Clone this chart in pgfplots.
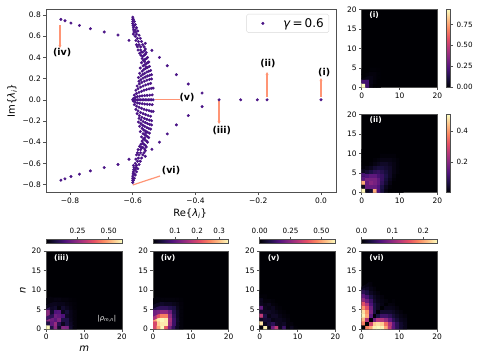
\documentclass[border=0pt]{standalone}
\usepackage{fontspec}
\setmainfont{DejaVu Sans}
\usepackage{pgfplots}
\pgfplotsset{compat=1.18}
\usetikzlibrary{arrows.meta}
\definecolor{pts}{HTML}{4A1486}
\definecolor{arrowc}{HTML}{FF9575}
\definecolor{spine}{HTML}{505050}
\definecolor{magmalow}{RGB}{0,0,4}
\newcommand{\fs}[1]{\fontsize{#1}{#1}\selectfont}
\pgfplotsset{
  colormap={magma}{rgb255=(0,0,4) rgb255=(28,16,68) rgb255=(79,18,123) rgb255=(129,37,129) rgb255=(181,54,122) rgb255=(229,80,100) rgb255=(251,135,97) rgb255=(254,194,135) rgb255=(252,253,191)},
  base/.style={
    scale only axis,
    axis line style={draw=spine,line width=0.8pt},
    tick style={draw=spine,line width=0.6pt},
    tick align=outside,
    major tick length=2.6pt,
    xtick pos=bottom, ytick pos=left,
    tick label style={font=\fs{7.5}},
    /pgf/number format/assume math mode=true,
    xticklabel style={yshift=1pt},
    yticklabel style={xshift=1pt},
  },
  panel/.style={
    base,
    width=75.7pt, height=78pt,
    xmin=0, xmax=20, ymin=0, ymax=20,
    xtick={0,10,20}, ytick={0,5,10,15,20},
    colormap name=magma,
    axis background/.style={fill=magmalow},
    point meta=explicit,
  },
  cbright/.style 2 args={
    colorbar,
    colorbar style={
      at={(parent axis.north east)}, anchor=north west, xshift=0.5pt,
      width=4pt, ytick={#1}, yticklabels={#2}, ytick pos=right, yticklabel pos=right,
      xtick=\empty,
      axis line style={draw=spine,line width=0.7pt},
      tick style={draw=spine,line width=0.6pt},
      major tick length=2.6pt, tick align=outside,
      tick label style={font=\fs{7.2}},
    },
  },
  cbtop/.style 2 args={
    colorbar horizontal,
    colorbar style={
      at={(parent axis.north west)}, anchor=south west, yshift=15.9pt,
      height=4pt, xtick={#1}, xticklabels={#2}, xtick pos=upper, xticklabel pos=upper,
      ytick=\empty,
      axis line style={draw=spine,line width=0.7pt},
      tick style={draw=spine,line width=0.6pt},
      major tick length=2.6pt, tick align=outside,
      tick label style={font=\fs{7.2}},
    },
  },
}
\tikzset{
  plabel/.style={font=\fs{7.6}\bfseries, text=white, inner sep=0pt},
  mlabel/.style={font=\fs{9.5}\bfseries, text=black, inner sep=0pt},
  arr/.style={draw=arrowc, line width=1.2pt, -{Stealth[length=3pt,width=3pt]}},
  arrn/.style={draw=arrowc, line width=1.2pt},
}
\begin{document}
\begin{tikzpicture}
\useasboundingbox (0pt,0pt) rectangle (480pt,360pt);

% spectrum
\begin{axis}[
  base,
  at={(46pt,167.5pt)}, anchor=south west,
  width=290pt, height=183.5pt,
  xmin=-0.8765, xmax=0.0478,
  ymin=-0.875, ymax=0.857,
  xtick={-0.8,-0.6,-0.4,-0.2,0}, xticklabels={−0.8,−0.6,−0.4,−0.2,0.0},
  ytick={-0.8,-0.6,-0.4,-0.2,0,0.2,0.4,0.6,0.8},
  yticklabels={−0.8,−0.6,−0.4,−0.2,0.0,0.2,0.4,0.6,0.8},
  xlabel={Re\{\textit{λ}\textsubscript{\textit{i}}\}},
  ylabel={Im\{\textit{λ}\textsubscript{\textit{i}}\}},
  label style={font=\fs{10}},
  every axis x label/.style={at={(axis description cs:0.497,-0.117)},anchor=center},
  every axis y label/.style={at={(axis description cs:-0.117,0.5)},anchor=center,rotate=90},
  legend style={at={(axis description cs:0.976,0.973)},anchor=north east,
    draw=black!15, rounded corners=1.5pt, font=\fs{12}, inner xsep=3pt, inner ysep=2pt},
  legend image code/.code={\draw[mark repeat=1,#1] plot coordinates {(13pt,0pt)}; \path (0pt,0pt) (31pt,0pt);},
]
\addplot[only marks, mark=*, mark size=1.3pt, color=pts] coordinates {
 (0,0) (-0.172,0) (-0.203,0) (-0.256,0) (-0.325,0)
 (-0.600,0) (-0.595,0) (-0.590,0) (-0.585,0) (-0.580,0) (-0.575,0) (-0.570,0) (-0.565,0) (-0.560,0) (-0.555,0) (-0.550,0) (-0.545,0) (-0.540,0) (-0.535,0)
 (-0.829,0.759) (-0.816,0.746) (-0.797,0.724) (-0.770,0.702) (-0.735,0.671) (-0.691,0.640) (-0.647,0.611) (-0.612,0.561)
 (-0.560,0.533) (-0.539,0.467) (-0.515,0.400) (-0.490,0.322) (-0.461,0.237) (-0.423,0.149) (-0.379,0.064)
 (-0.598,0.012) (-0.592,0.022) (-0.585,0.030) (-0.578,0.034) (-0.570,0.037) (-0.562,0.040) (-0.554,0.042) (-0.546,0.044) (-0.538,0.046)
 (-0.595,0.045) (-0.588,0.060) (-0.580,0.070) (-0.572,0.080) (-0.564,0.090) (-0.556,0.097) (-0.548,0.103) (-0.541,0.108) (-0.535,0.110)
 (-0.590,0.090) (-0.583,0.105) (-0.575,0.120) (-0.567,0.130) (-0.559,0.140) (-0.551,0.148) (-0.543,0.155)
 (-0.586,0.130) (-0.579,0.150) (-0.571,0.165) (-0.563,0.175) (-0.555,0.185) (-0.547,0.192) (-0.540,0.197)
 (-0.580,0.175) (-0.574,0.190) (-0.567,0.205) (-0.560,0.215) (-0.553,0.225) (-0.546,0.232) (-0.540,0.237)
 (-0.574,0.225) (-0.568,0.240) (-0.562,0.250) (-0.555,0.262) (-0.549,0.270) (-0.543,0.277)
 (-0.570,0.270) (-0.565,0.285) (-0.559,0.295) (-0.553,0.305) (-0.547,0.315)
 (-0.567,0.320) (-0.562,0.330) (-0.557,0.340) (-0.552,0.350) (-0.549,0.357)
 (-0.566,0.370) (-0.561,0.380) (-0.556,0.390) (-0.553,0.400)
 (-0.568,0.410) (-0.564,0.420) (-0.560,0.430) (-0.557,0.445)
 (-0.560,0.480) (-0.564,0.500) (-0.568,0.520) (-0.572,0.550) (-0.576,0.580) (-0.580,0.610) (-0.584,0.650) (-0.588,0.680) (-0.592,0.710) (-0.595,0.740) (-0.598,0.760) (-0.600,0.780)
 (-0.600,0.760) (-0.600,0.740) (-0.600,0.720) (-0.599,0.700) (-0.598,0.680) (-0.597,0.660) (-0.596,0.640) (-0.598,0.620)
 (-0.595,0.700) (-0.592,0.660) (-0.590,0.640) (-0.588,0.620) (-0.592,0.600) (-0.585,0.580) (-0.590,0.560) (-0.582,0.550) (-0.588,0.520) (-0.580,0.520) (-0.585,0.500) (-0.575,0.500) (-0.583,0.470) (-0.575,0.470) (-0.578,0.440) (-0.572,0.450)
 (-0.576,0.300) (-0.572,0.350) (-0.570,0.390) (-0.578,0.250) (-0.582,0.210) (-0.562,0.360) (-0.558,0.310) (-0.574,0.420) (-0.568,0.450) (-0.562,0.465)
 (-0.829,-0.759) (-0.816,-0.746) (-0.797,-0.724) (-0.770,-0.702) (-0.735,-0.671) (-0.691,-0.640) (-0.647,-0.611) (-0.612,-0.561)
 (-0.560,-0.533) (-0.539,-0.467) (-0.515,-0.400) (-0.490,-0.322) (-0.461,-0.237) (-0.423,-0.149) (-0.379,-0.064)
 (-0.598,-0.012) (-0.592,-0.022) (-0.585,-0.030) (-0.578,-0.034) (-0.570,-0.037) (-0.562,-0.040) (-0.554,-0.042) (-0.546,-0.044) (-0.538,-0.046)
 (-0.595,-0.045) (-0.588,-0.060) (-0.580,-0.070) (-0.572,-0.080) (-0.564,-0.090) (-0.556,-0.097) (-0.548,-0.103) (-0.541,-0.108) (-0.535,-0.110)
 (-0.590,-0.090) (-0.583,-0.105) (-0.575,-0.120) (-0.567,-0.130) (-0.559,-0.140) (-0.551,-0.148) (-0.543,-0.155)
 (-0.586,-0.130) (-0.579,-0.150) (-0.571,-0.165) (-0.563,-0.175) (-0.555,-0.185) (-0.547,-0.192) (-0.540,-0.197)
 (-0.580,-0.175) (-0.574,-0.190) (-0.567,-0.205) (-0.560,-0.215) (-0.553,-0.225) (-0.546,-0.232) (-0.540,-0.237)
 (-0.574,-0.225) (-0.568,-0.240) (-0.562,-0.250) (-0.555,-0.262) (-0.549,-0.270) (-0.543,-0.277)
 (-0.570,-0.270) (-0.565,-0.285) (-0.559,-0.295) (-0.553,-0.305) (-0.547,-0.315)
 (-0.567,-0.320) (-0.562,-0.330) (-0.557,-0.340) (-0.552,-0.350) (-0.549,-0.357)
 (-0.566,-0.370) (-0.561,-0.380) (-0.556,-0.390) (-0.553,-0.400)
 (-0.568,-0.410) (-0.564,-0.420) (-0.560,-0.430) (-0.557,-0.445)
 (-0.560,-0.480) (-0.564,-0.500) (-0.568,-0.520) (-0.572,-0.550) (-0.576,-0.580) (-0.580,-0.610) (-0.584,-0.650) (-0.588,-0.680) (-0.592,-0.710) (-0.595,-0.740) (-0.598,-0.760) (-0.600,-0.780)
 (-0.600,-0.760) (-0.600,-0.740) (-0.600,-0.720) (-0.599,-0.700) (-0.598,-0.680) (-0.597,-0.660) (-0.596,-0.640) (-0.598,-0.620)
 (-0.595,-0.700) (-0.592,-0.660) (-0.590,-0.640) (-0.588,-0.620) (-0.592,-0.600) (-0.585,-0.580) (-0.590,-0.560) (-0.582,-0.550) (-0.588,-0.520) (-0.580,-0.520) (-0.585,-0.500) (-0.575,-0.500) (-0.583,-0.470) (-0.575,-0.470) (-0.578,-0.440) (-0.572,-0.450)
 (-0.576,-0.300) (-0.572,-0.350) (-0.570,-0.390) (-0.578,-0.250) (-0.582,-0.210) (-0.562,-0.360) (-0.558,-0.310) (-0.574,-0.420) (-0.568,-0.450) (-0.562,-0.465)
};
\addlegendentry{\textit{γ}\,=\,0.6}
\draw[arr] (axis cs:0,0.03) -- (axis cs:0,0.205);
\draw[arr] (axis cs:-0.172,0.03) -- (axis cs:-0.172,0.262);
\draw[arr] (axis cs:-0.325,-0.01) -- (axis cs:-0.325,-0.228);
\draw[arr] (axis cs:-0.832,0.706) -- (axis cs:-0.832,0.489);
\draw[arrn] (axis cs:-0.529,0.004) -- (axis cs:-0.449,0.004);
\draw[arrn] (axis cs:-0.6,-0.804) -- (axis cs:-0.513,-0.719);
\node[mlabel] at (axis cs:0.01,0.262) {(i)};
\node[mlabel] at (axis cs:-0.169,0.338) {(ii)};
\node[mlabel] at (axis cs:-0.316,-0.294) {(iii)};
\node[mlabel] at (axis cs:-0.825,0.451) {(iv)};
\node[mlabel] at (axis cs:-0.427,0.017) {(v)};
\node[mlabel] at (axis cs:-0.478,-0.672) {(vi)};
\end{axis}

% (i)
\begin{axis}[panel, at={(361.7pt,272.7pt)}, anchor=south west,
  point meta min=0, point meta max=0.93,
  cbright={0,0.25,0.5,0.75}{0.00,0.25,0.50,0.75}]
\addplot[matrix plot*, mesh/cols=5] table[row sep=crcr, header=false, x expr={mod(\coordindex,5)+0.5}, y expr={floor(\coordindex/5)+0.5}, meta index=0] {
0.93\\0.20\\0.02\\0\\0\\
0.20\\0.20\\0.03\\0.01\\0\\
0.02\\0.03\\0.03\\0.015\\0.005\\
0\\0.01\\0.015\\0.015\\0.005\\
0\\0\\0.005\\0.005\\0.003\\
};
\node[plabel] at (rel axis cs:0.165,0.92) {(i)};
\end{axis}

% (ii)
\begin{axis}[panel, at={(361.7pt,167.7pt)}, anchor=south west,
  point meta min=0.005, point meta max=0.51,
  cbright={0.2,0.4}{0.2,0.4}]
\addplot[matrix plot*, mesh/cols=11] table[row sep=crcr, header=false, x expr={mod(\coordindex,11)+0.5}, y expr={floor(\coordindex/11)+0.5}, meta index=0] {
0.50\\0.03\\0.05\\0.42\\0.13\\0.06\\0.02\\0.005\\0\\0\\0\\
0.03\\0.16\\0.16\\0.16\\0.13\\0.07\\0.03\\0.01\\0\\0\\0\\
0.42\\0.16\\0.20\\0.18\\0.15\\0.09\\0.05\\0.02\\0.005\\0\\0\\
0.14\\0.18\\0.18\\0.18\\0.15\\0.10\\0.06\\0.03\\0.01\\0.005\\0\\
0.12\\0.13\\0.15\\0.15\\0.12\\0.10\\0.07\\0.04\\0.015\\0.005\\0\\
0.03\\0.05\\0.07\\0.09\\0.10\\0.08\\0.06\\0.04\\0.02\\0.01\\0.005\\
0.01\\0.02\\0.03\\0.05\\0.06\\0.06\\0.05\\0.04\\0.02\\0.01\\0.005\\
0\\0.005\\0.01\\0.02\\0.03\\0.04\\0.04\\0.03\\0.02\\0.01\\0.005\\
0\\0\\0.005\\0.01\\0.015\\0.02\\0.02\\0.02\\0.015\\0.01\\0.005\\
0\\0\\0\\0.005\\0.005\\0.01\\0.01\\0.01\\0.01\\0.005\\0.005\\
0\\0\\0\\0\\0\\0.005\\0.005\\0.005\\0.005\\0.005\\0.003\\
};
\node[plabel] at (rel axis cs:0.185,0.92) {(ii)};
\end{axis}

% (iii)
\begin{axis}[panel, at={(46.3pt,31pt)}, anchor=south west,
  point meta min=0, point meta max=0.606,
  xlabel={\textit{m}}, ylabel={\textit{n}},
  label style={font=\fs{6.2}},
  every axis x label/.style={at={(axis description cs:0.5,-0.255)},anchor=center},
  every axis y label/.style={at={(axis description cs:-0.31,0.5)},anchor=center,rotate=90},
  cbtop={0.25,0.5}{0.25,0.50}]
\addplot[matrix plot*, mesh/cols=8] table[row sep=crcr, header=false, x expr={mod(\coordindex,8)+0.5}, y expr={floor(\coordindex/8)+0.5}, meta index=0] {
0.60\\0.08\\0.24\\0.05\\0.23\\0.22\\0.05\\0.01\\
0.08\\0.18\\0.26\\0.10\\0.03\\0.08\\0.04\\0.01\\
0.25\\0.20\\0.17\\0.22\\0.08\\0.08\\0.03\\0.01\\
0.12\\0.10\\0.20\\0.18\\0.15\\0.04\\0.025\\0.01\\
0.24\\0.05\\0.15\\0.16\\0.03\\0.06\\0.025\\0.01\\
0.10\\0.04\\0.05\\0.01\\0.05\\0.03\\0.015\\0.005\\
0.025\\0.03\\0.03\\0.025\\0.025\\0.015\\0.01\\0.005\\
0.01\\0.01\\0.015\\0.015\\0.01\\0.01\\0.005\\0.002\\
};
\node[plabel] at (rel axis cs:0.2,0.915) {(iii)};
\node[font=\fs{6.8}, text=white, inner sep=0pt] at (rel axis cs:0.8,0.128) {|\textit{ρ}\textsubscript{\textit{m,n}}|};
\end{axis}

% (iv)
\begin{axis}[panel, at={(153pt,31pt)}, anchor=south west,
  point meta min=0, point meta max=0.343,
  cbtop={0.1,0.2,0.3}{0.1,0.2,0.3}]
\addplot[matrix plot*, mesh/cols=8] table[row sep=crcr, header=false, x expr={mod(\coordindex,8)+0.5}, y expr={floor(\coordindex/8)+0.5}, meta index=0] {
0.20\\0.28\\0.34\\0.22\\0.12\\0.06\\0.02\\0.005\\
0.20\\0.31\\0.33\\0.33\\0.15\\0.07\\0.02\\0.005\\
0.28\\0.33\\0.34\\0.33\\0.16\\0.07\\0.025\\0.005\\
0.16\\0.21\\0.25\\0.25\\0.14\\0.06\\0.02\\0.005\\
0.11\\0.12\\0.14\\0.14\\0.11\\0.05\\0.02\\0.005\\
0.05\\0.06\\0.06\\0.06\\0.05\\0.04\\0.015\\0.005\\
0.02\\0.02\\0.025\\0.02\\0.02\\0.015\\0.01\\0.004\\
0.005\\0.005\\0.005\\0.005\\0.005\\0.005\\0.004\\0.002\\
};
\node[plabel] at (rel axis cs:0.2,0.915) {(iv)};
\end{axis}

% (v)
\begin{axis}[panel, at={(259.7pt,31pt)}, anchor=south west,
  point meta min=0, point meta max=0.614,
  cbtop={0,0.25,0.5}{0.00,0.25,0.50}]
\addplot[matrix plot*, mesh/cols=10] table[row sep=crcr, header=false, x expr={mod(\coordindex,10)+0.5}, y expr={floor(\coordindex/10)+0.5}, meta index=0] {
0.01\\0.60\\0.02\\0.20\\0.32\\0.03\\0.12\\0.01\\0.03\\0.005\\
0.58\\0.03\\0.07\\0.10\\0.04\\0.03\\0.04\\0.01\\0.01\\0\\
0.04\\0.06\\0.05\\0.02\\0.03\\0.03\\0.02\\0.01\\0\\0\\
0.32\\0.08\\0.02\\0.04\\0.04\\0.02\\0.01\\0.005\\0\\0\\
0.05\\0.04\\0.04\\0.03\\0.02\\0.01\\0.005\\0\\0\\0\\
0.18\\0.03\\0.02\\0.03\\0.01\\0.005\\0\\0\\0\\0\\
0.03\\0.02\\0.03\\0.01\\0.005\\0\\0\\0\\0\\0\\
0.03\\0.01\\0.01\\0.005\\0\\0\\0\\0\\0\\0\\
0.005\\0.005\\0\\0\\0\\0\\0\\0\\0\\0\\
0\\0\\0\\0\\0\\0\\0\\0\\0\\0\\
};
\node[plabel] at (rel axis cs:0.185,0.915) {(v)};
\end{axis}

% (vi)
\begin{axis}[panel, at={(361.5pt,31pt)}, anchor=south west,
  point meta min=0, point meta max=0.245,
  cbtop={0,0.1,0.2}{0.0,0.1,0.2}]
\addplot[matrix plot*, mesh/cols=12] table[row sep=crcr, header=false, x expr={mod(\coordindex,12)+0.5}, y expr={floor(\coordindex/12)+0.5}, meta index=0] {
0\\0.18\\0.20\\0.24\\0.245\\0.24\\0.20\\0.13\\0.07\\0.04\\0.02\\0.01\\
0.18\\0\\0.14\\0.22\\0.23\\0.22\\0.17\\0.12\\0.07\\0.04\\0.02\\0.01\\
0.21\\0.12\\0\\0.08\\0.12\\0.12\\0.10\\0.07\\0.04\\0.025\\0.012\\0.008\\
0.24\\0.20\\0.07\\0\\0.03\\0.05\\0.05\\0.04\\0.025\\0.015\\0.008\\0.004\\
0.23\\0.19\\0.09\\0.03\\0\\0.02\\0.02\\0.02\\0.015\\0.008\\0.004\\0\\
0.19\\0.15\\0.08\\0.03\\0.015\\0\\0.01\\0.01\\0.008\\0.004\\0\\0\\
0.15\\0.12\\0.06\\0.03\\0.015\\0.008\\0\\0.005\\0.004\\0\\0\\0\\
0.10\\0.08\\0.05\\0.02\\0.01\\0.006\\0.003\\0\\0.002\\0\\0\\0\\
0.07\\0.055\\0.03\\0.015\\0.008\\0.004\\0\\0\\0\\0\\0\\0\\
0.04\\0.03\\0.015\\0.008\\0.004\\0\\0\\0\\0\\0\\0\\0\\
0.02\\0.015\\0.008\\0.004\\0\\0\\0\\0\\0\\0\\0\\0\\
0.01\\0.007\\0.004\\0\\0\\0\\0\\0\\0\\0\\0\\0\\
};
\node[plabel] at (rel axis cs:0.2,0.915) {(vi)};
\end{axis}
\end{tikzpicture}
\end{document}
